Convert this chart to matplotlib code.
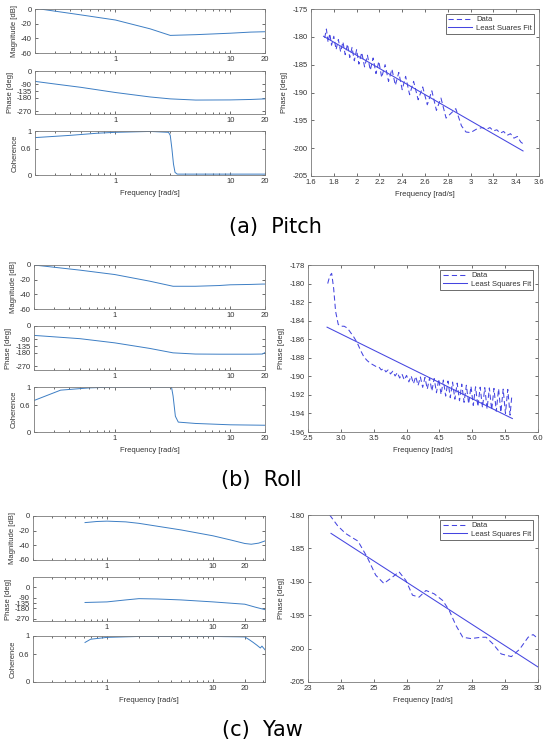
import matplotlib.pyplot as plt
from matplotlib.ticker import LogLocator, NullFormatter

plt.rcParams['font.family'] = ['Liberation Sans', 'DejaVu Sans']
plt.rcParams['axes.unicode_minus'] = False

# ---------------- data ----------------
# Bode-style estimates (frequency [rad/s], value)
pitch_f = [0.2, 0.3, 0.5, 1.0, 2.0, 3.0, 5.0, 10.0, 15.0, 20.0]
pitch_mag = [1, -3, -8, -15, -27, -36, -35, -33, -31.5, -31]
pitch_ph = [-70, -88, -110, -145, -175, -188, -196, -195, -192, -188]
pitch_coh_f = [0.2, 0.4, 0.7, 1.0, 2.0, 2.9, 3.0, 3.1, 3.2, 3.3, 3.45, 5.0, 10.0, 20.0]
pitch_coh = [0.85, 0.9, 0.95, 0.97, 0.99, 0.97, 0.9, 0.6, 0.25, 0.06, 0.02, 0.02, 0.02, 0.02]

roll_f = [0.2, 0.5, 1.0, 2.0, 3.2, 5.0, 8.0, 10.0, 15.0, 19.0, 20.0]
roll_mag = [0, -7, -13, -22, -29, -29, -28, -27, -26.5, -26, -26]
roll_ph = [-63, -85, -113, -150, -180, -188, -189, -189, -189, -188, -178]
roll_coh_f = [0.2, 0.34, 0.6, 1.0, 2.0, 3.1, 3.2, 3.35, 3.55, 5.0, 10.0, 20.0]
roll_coh = [0.7, 0.93, 0.98, 1.0, 1.0, 1.0, 0.8, 0.35, 0.22, 0.19, 0.16, 0.15]

yaw_f = [0.62, 0.8, 1.0, 1.5, 2.0, 3.0, 5.0, 10.0, 15.0, 20.0, 23.0, 27.0, 31.0]
yaw_mag = [-9, -7.5, -7, -8, -10, -14, -19, -27, -33, -37.5, -38.5, -37, -34]
yaw_ph_f = [0.62, 1.0, 1.5, 2.0, 3.0, 5.0, 10.0, 20.0, 25.0, 31.0]
yaw_ph = [-130, -125, -108, -97, -100, -108, -125, -145, -170, -192]
yaw_coh_f = [0.62, 0.7, 1.0, 2.0, 5.0, 10.0, 20.0, 22.0, 24.0, 26.0, 28.0, 29.0, 31.0]
yaw_coh = [0.86, 0.93, 0.97, 0.99, 0.99, 0.99, 0.98, 0.92, 0.86, 0.8, 0.74, 0.78, 0.7]

# phase data used for the delay fit
pitch_df = [1.72, 1.735, 1.75, 1.765, 1.78, 1.80, 1.82, 1.84, 1.86, 1.88, 1.90, 1.92,
            1.94, 1.96, 1.98, 2.00, 2.02, 2.045, 2.07, 2.095, 2.12, 2.145, 2.17, 2.195,
            2.22, 2.25, 2.28, 2.31, 2.34, 2.37, 2.40, 2.43, 2.465, 2.50, 2.54, 2.58,
            2.62, 2.66, 2.70, 2.74, 2.785, 2.87, 2.92, 2.96, 3.00, 3.05, 3.10, 3.14,
            3.17, 3.20, 3.23, 3.26, 3.29, 3.32, 3.35, 3.38, 3.41, 3.44, 3.46]
pitch_dp = [-180.2, -178.6, -181.0, -179.4, -181.5, -179.9, -182.3, -180.5, -182.7, -180.9,
            -183.2, -181.3, -183.7, -181.9, -184.3, -182.3, -184.9, -182.8, -185.4, -183.3,
            -186.0, -183.8, -186.6, -184.4, -187.3, -185.0, -188.0, -185.8, -188.7, -186.4,
            -189.5, -187.1, -190.4, -188.0, -191.3, -189.0, -192.2, -189.7, -193.2, -191.0,
            -194.6, -192.9, -196.0, -197.1, -197.2, -196.6, -196.3, -196.6, -196.3, -196.9,
            -196.7, -197.3, -197.0, -197.7, -197.4, -198.2, -197.9, -198.9, -199.2]
pitch_fit_f = [1.71, 3.46]
pitch_fit_p = [-179.9, -200.5]

roll_df = [2.80, 2.83, 2.86, 2.89, 2.92, 2.96, 3.00, 3.05, 3.10, 3.15, 3.20, 3.25, 3.30,
           3.35, 3.40, 3.45, 3.50, 3.55,
           3.58, 3.615, 3.65, 3.685, 3.72, 3.755, 3.79, 3.825, 3.86, 3.895, 3.93, 3.965,
           4.00, 4.035, 4.07, 4.105, 4.14, 4.175, 4.21, 4.245, 4.28, 4.315, 4.35, 4.385,
           4.42, 4.455, 4.49, 4.525, 4.56, 4.595, 4.63, 4.665, 4.70, 4.735, 4.77, 4.805,
           4.84, 4.875, 4.91, 4.945, 4.98, 5.015, 5.05, 5.085, 5.12, 5.155, 5.19, 5.225,
           5.26, 5.295, 5.33, 5.365, 5.40, 5.435, 5.47, 5.505, 5.54, 5.575, 5.60]
roll_dp = [-180.0, -179.2, -178.9, -180.5, -183.0, -184.4, -184.6, -184.6, -184.8, -185.3,
           -185.8, -186.4, -187.2, -187.9, -188.3, -188.6, -188.8, -189.0,
           -189.00, -189.31, -189.15, -189.52, -189.30, -189.74, -189.45, -189.96, -189.60,
           -190.18, -189.75, -190.39, -189.90, -190.60, -189.96, -190.80, -190.01, -190.99,
           -190.07, -191.19, -190.12, -191.38, -190.18, -191.58, -190.24, -191.77, -190.29,
           -191.96, -190.40, -192.13, -190.51, -192.30, -190.62, -192.46, -190.73, -192.63,
           -190.84, -192.80, -190.96, -192.97, -191.07, -193.13, -191.13, -193.25, -191.17,
           -193.38, -191.22, -193.51, -191.25, -193.63, -191.30, -193.76, -191.34, -193.88,
           -191.38, -194.01, -191.41, -194.18, -192.2]
roll_fit_f = [2.79, 5.61]
roll_fit_p = [-184.7, -194.55]

yaw_df = [23.66, 23.9, 24.14, 24.35, 24.52, 24.8, 25.06, 25.31, 25.57, 25.77, 25.98, 26.18,
          26.38, 26.59, 26.84, 27.1, 27.3, 27.5, 27.71, 27.96, 28.27, 28.42, 28.63, 28.88,
          29.19, 29.44, 29.7, 29.85, 30.0]
yaw_dp = [-180.0, -181.6, -182.75, -183.4, -183.9, -186.3, -189.0, -190.25, -189.3, -188.5,
          -189.8, -192.0, -192.3, -191.3, -191.8, -192.8, -194.3, -196.5, -198.3, -198.5,
          -198.3, -198.3, -199.3, -200.8, -201.2, -200.1, -198.3, -197.9, -198.5]
yaw_fit_f = [23.7, 30.0]
yaw_fit_p = [-182.75, -202.75]

# ---------------- layout ----------------
W, H = 545, 742
fig = plt.figure(figsize=(W / 100, H / 100), dpi=100)

TXT = '#333333'
BODE = '#3d7ec4'
BLUE = '#4545e0'


def box(x0, y0, x1, y1):
    return fig.add_axes([x0 / W, 1 - y1 / H, (x1 - x0) / W, (y1 - y0) / H])


def matlab_style(ax):
    ax.tick_params(which='both', direction='in', top=True, right=True,
                   labelsize=5.5, colors=TXT, width=0.5, pad=2.5)
    ax.tick_params(which='major', length=2.5)
    ax.tick_params(which='minor', length=1.5)
    for s in ax.spines.values():
        s.set_color('#7a7a7a')
        s.set_linewidth(0.6)


def bode_axes(ax, xmax):
    ax.set_xscale('log')
    ax.set_xlim(0.2, xmax)
    ax.set_xticks([1, 10, 20])
    ax.set_xticklabels(['1', '10', '20'])
    ax.xaxis.set_minor_locator(LogLocator(base=10, subs=range(2, 10)))
    ax.xaxis.set_minor_formatter(NullFormatter())
    matlab_style(ax)


def bode_column(rows, f, mag, ph_f, ph, coh_f, coh, xmax, ph_lim):
    a1 = box(*rows[0])
    a1.plot(f, mag, color=BODE, lw=0.7)
    a1.set_ylim(-60, 0)
    a1.set_yticks([0, -20, -40, -60])
    a1.set_ylabel('Magnitude [dB]', fontsize=5.5, color=TXT, labelpad=2)
    bode_axes(a1, xmax)

    a2 = box(*rows[1])
    a2.plot(ph_f, ph, color=BODE, lw=0.7)
    a2.set_ylim(*ph_lim)
    a2.set_yticks([0, -90, -135, -180, -270])
    a2.set_ylabel('Phase [deg]', fontsize=5.5, color=TXT, labelpad=2)
    bode_axes(a2, xmax)

    a3 = box(*rows[2])
    a3.plot(coh_f, coh, color=BODE, lw=0.7)
    a3.set_ylim(0, 1)
    a3.set_yticks([0, 0.6, 1])
    a3.set_yticklabels(['0', '0.6', '1'])
    a3.set_ylabel('Coherence', fontsize=5.5, color=TXT, labelpad=2)
    a3.set_xlabel('Frequency [rad/s]', fontsize=5.5, color=TXT, labelpad=3)
    bode_axes(a3, xmax)


def fit_panel(rect, df, dp, ff, fp, xlim, ylim, yticks, xticks, fit_label):
    ax = box(*rect)
    ax.plot(df, dp, color=BLUE, lw=0.75, ls=(0, (5, 3)), label='Data')
    ax.plot(ff, fp, color=BLUE, lw=0.75, label=fit_label)
    ax.set_xlim(*xlim)
    ax.set_ylim(*ylim)
    ax.set_yticks(yticks)
    ax.set_xticks(xticks)
    ax.set_ylabel('Phase [deg]', fontsize=5.5, color=TXT, labelpad=3)
    ax.set_xlabel('Frequency [rad/s]', fontsize=5.5, color=TXT, labelpad=3)
    matlab_style(ax)
    leg = ax.legend(loc='upper right', fontsize=5.5, fancybox=False, framealpha=1,
                    edgecolor='#555555', handlelength=3.2, borderaxespad=0.6,
                    borderpad=0.3, labelspacing=0.2, handletextpad=0.5)
    leg.get_frame().set_linewidth(0.6)
    for t in leg.get_texts():
        t.set_color(TXT)
    return ax


# (a) Pitch
bode_column([(35, 9, 265, 53), (35, 71, 265, 114), (35, 131, 265, 175)],
            pitch_f, pitch_mag, pitch_f, pitch_ph, pitch_coh_f, pitch_coh, 20, (-290, 0))
ax = fit_panel((311, 9, 539, 176), pitch_df, pitch_dp, pitch_fit_f, pitch_fit_p,
               (1.6, 3.6), (-205, -175), list(range(-205, -174, 5)),
               [1.6, 1.8, 2, 2.2, 2.4, 2.6, 2.8, 3, 3.2, 3.4, 3.6], 'Least Suares Fit')
ax.set_xticklabels(['1.6', '1.8', '2', '2.2', '2.4', '2.6', '2.8', '3', '3.2', '3.4', '3.6'])

# (b) Roll
bode_column([(34, 265, 265, 309), (34, 326, 265, 370), (34, 387, 265, 432)],
            roll_f, roll_mag, roll_f, roll_ph, roll_coh_f, roll_coh, 20, (-295, 0))
fit_panel((308, 265, 538, 432), roll_df, roll_dp, roll_fit_f, roll_fit_p,
          (2.5, 6), (-196, -178), list(range(-196, -177, 2)),
          [2.5, 3, 3.5, 4, 4.5, 5, 5.5, 6], 'Least Squares Fit')

# (c) Yaw
bode_column([(33, 516, 265, 560), (33, 577, 265, 621), (33, 636, 265, 682)],
            yaw_f, yaw_mag, yaw_ph_f, yaw_ph, yaw_coh_f, yaw_coh, 31, (-290, 90))
fit_panel((308, 515, 538, 682), yaw_df, yaw_dp, yaw_fit_f, yaw_fit_p,
          (23, 30), (-205, -180), list(range(-205, -179, 5)),
          list(range(23, 31)), 'Least Squares Fit')

# captions
cap = dict(fontsize=15, ha='center', va='center', color='black', family='DejaVu Sans')
fig.text(275 / W, 1 - 227 / H, '(a)  Pitch', **cap)
fig.text(261 / W, 1 - 480 / H, '(b)  Roll', **cap)
fig.text(262 / W, 1 - 730 / H, '(c)  Yaw', **cap)

fig.savefig('out.png', dpi=100, facecolor='white')
